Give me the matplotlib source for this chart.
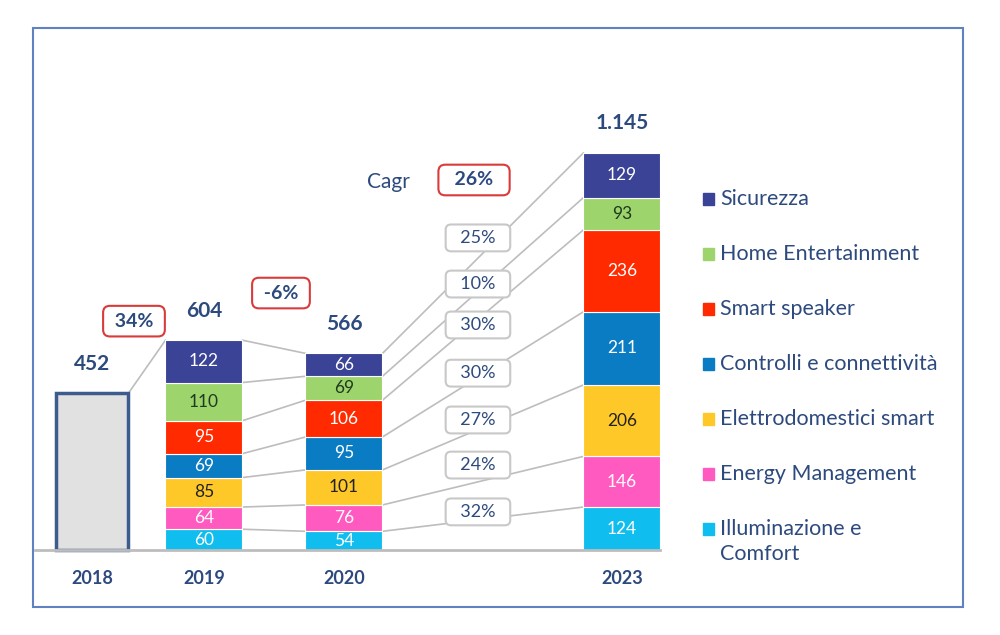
import numpy as np
import matplotlib.pyplot as plt
from matplotlib.patches import Rectangle

plt.rcParams['font.family'] = ['Lato', 'DejaVu Sans']

# dati (dal basso verso l'alto)
categorie = ['Illuminazione e\nComfort', 'Energy Management', 'Elettrodomestici smart',
             'Controlli e connettività', 'Smart speaker', 'Home Entertainment', 'Sicurezza']
colori = ['#10bdef', '#ff5ac0', '#ffc829', '#0a7cc4', '#ff2a00', '#9dd46c', '#3a4396']
testo_col = ['white', 'white', '#222222', 'white', 'white', '#1f3a1f', 'white']

anni = ['2018', '2019', '2020', '2023']
xpos = [0.0, 0.8, 1.8, 3.785]
totale_2018 = 452
v2019 = [60, 64, 85, 69, 95, 110, 122]
v2020 = [54, 76, 101, 95, 106, 69, 66]
v2023 = [124, 146, 206, 211, 236, 93, 129]
totali = ['452', '604', '566', '1.145']
totali_val = [452, 604, 566, 1145]
crescita = ['32%', '24%', '27%', '30%', '30%', '10%', '25%']
crescita_y = [110, 245, 375, 510, 649, 767, 900]

blu = '#2d4a7e'
grigio = '#bdbdbd'

fig = plt.figure(figsize=(10, 6.35), dpi=100)
ax = fig.add_axes([0, 0, 1, 1])
ax.set_xlim(-0.657, 6.486)
ax.set_ylim(-245, 1586)
ax.axis('off')

# cornice
ax.add_patch(Rectangle((0.033, 0.044), 0.930, 0.912, transform=ax.transAxes,
                       fill=False, edgecolor='#5f82c2', lw=1.5))

w = 0.55
# barra 2018
ax.bar(xpos[0], totale_2018, width=0.52, color='#e1e1e1', edgecolor='#3d5c8e', lw=2.5, zorder=3)

# barre impilate
serie = [v2019, v2020, v2023]
tops = []
for k, vals in enumerate(serie):
    x = xpos[k + 1]
    bottom = 0
    t = []
    for i, v in enumerate(vals):
        ax.bar(x, v, width=w, bottom=bottom, color=colori[i], edgecolor='white', lw=0.8, zorder=3)
        ax.text(x, bottom + v / 2, str(v), ha='center', va='center', fontsize=12.5,
                color=testo_col[i], zorder=4)
        bottom += v
        t.append(bottom)
    tops.append(t)

# linee di collegamento
ax.plot([xpos[0] + 0.26, xpos[1] - w / 2], [totale_2018, tops[0][-1]], color=grigio, lw=1.2, zorder=2)
for i in range(7):
    ax.plot([xpos[1] + w / 2, xpos[2] - w / 2], [tops[0][i], tops[1][i]], color=grigio, lw=1.2, zorder=2)
    ax.plot([xpos[2] + w / 2, xpos[3] - w / 2], [tops[1][i], tops[2][i]], color=grigio, lw=1.2, zorder=2)

# box crescita
for lab, y in zip(crescita, crescita_y):
    ax.text(2.757, y, '  ' + lab + '  ', ha='center', va='center', fontsize=13, color=blu, zorder=6,
            bbox=dict(boxstyle='round,pad=0.3,rounding_size=0.3', fc='white', ec='#c8c8c8', lw=1.5))

# totali
for x, lab, v in zip(xpos, totali, totali_val):
    ax.text(x, v + 85, lab, ha='center', va='center', fontsize=15, fontweight='bold', color=blu)

# anni
for x, lab in zip(xpos, anni):
    ax.text(x, -82, lab, ha='center', va='center', fontsize=13, fontweight='bold', color=blu)

# asse base
ax.plot([-0.407, 4.06], [0, 0], color=grigio, lw=2, zorder=5)

# box rossi
rosso = dict(boxstyle='round,pad=0.35,rounding_size=0.35', fc='white', ec='#d93a3a', lw=1.5)
ax.text(0.30, 660, ' 34% ', ha='center', va='center', fontsize=14, fontweight='bold', color=blu, bbox=rosso)
ax.text(1.35, 741, ' -6% ', ha='center', va='center', fontsize=14, fontweight='bold', color=blu, bbox=rosso)
ax.text(2.729, 1067, '  26%  ', ha='center', va='center', fontsize=14, fontweight='bold', color=blu, bbox=rosso)
ax.text(2.121, 1060, 'Cagr', ha='center', va='center', fontsize=15, color=blu)

# legenda
for j, (nome, col) in enumerate(zip(categorie[::-1], colori[::-1])):
    yy = 1 - 199 / 635 - j * 55 / 635
    ax.add_patch(Rectangle((0.703, yy - 0.009), 0.011, 0.018, transform=ax.transAxes,
                           color=col))
    if '\n' in nome:
        ax.text(0.720, yy + 0.015, nome, transform=ax.transAxes, ha='left', va='top',
                fontsize=15.5, color=blu, linespacing=1.3)
    else:
        ax.text(0.720, yy, nome, transform=ax.transAxes, ha='left', va='center',
                fontsize=15.5, color=blu)

fig.savefig('out.png', dpi=100)
